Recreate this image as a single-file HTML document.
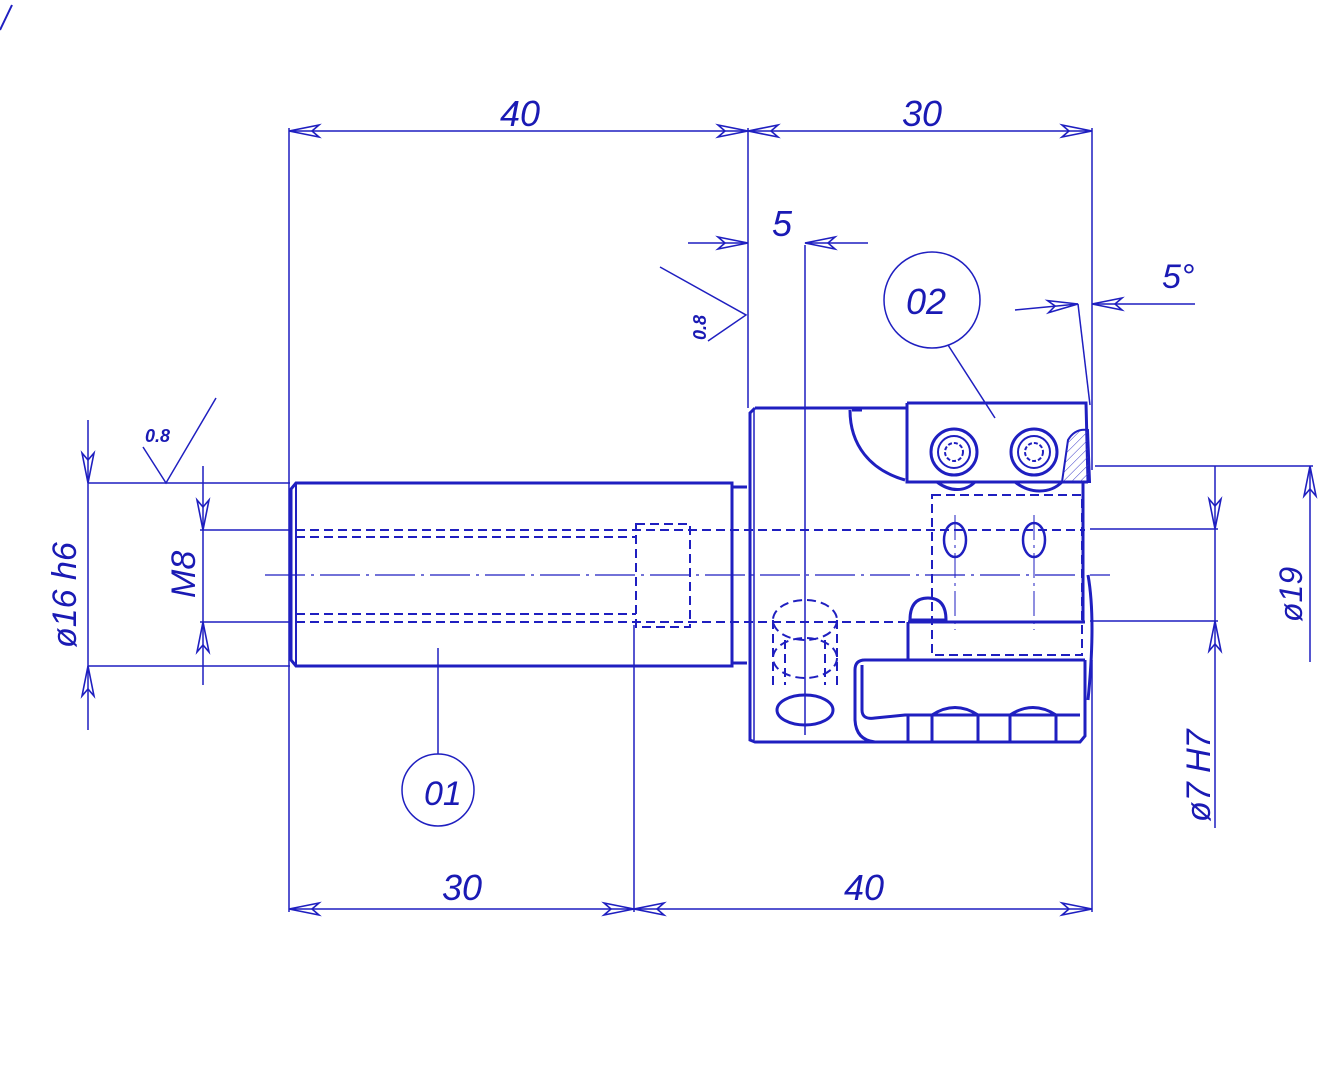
<!DOCTYPE html>
<html><head><meta charset="utf-8"><style>
html,body{margin:0;padding:0;background:#fff;}
svg{display:block}
text{font-family:"Liberation Sans","DejaVu Sans",sans-serif;font-style:italic;fill:#1a1ab4;}
</style></head><body>
<svg width="1339" height="1069" viewBox="0 0 1339 1069" xmlns="http://www.w3.org/2000/svg">
<defs>
<g id="ar"><path d="M0,0 L-30,-6 L-23,0 L-30,6 Z" fill="none" stroke="#1f1fc0" stroke-width="1.6" stroke-linejoin="miter"/></g>
<pattern id="hat" width="6" height="6" patternUnits="userSpaceOnUse" patternTransform="rotate(45)"><line x1="0" y1="0" x2="0" y2="6" stroke="#3a3ac8" stroke-width="1"/></pattern>
</defs>
<g stroke="#1f1fc0" fill="none">
<line x1="0" y1="30" x2="12" y2="5" stroke-width="2"/>
<g stroke-width="1.5">
<line x1="289" y1="128" x2="289" y2="912"/>
<line x1="748" y1="128" x2="748" y2="408"/>
<line x1="1092" y1="128" x2="1092" y2="470"/>
<line x1="1092" y1="660" x2="1092" y2="912"/>
<line x1="634" y1="625" x2="634" y2="912"/>
<line x1="289" y1="131" x2="1092" y2="131"/>
<line x1="289" y1="909" x2="1092" y2="909"/>
<line x1="688" y1="243" x2="748" y2="243"/>
<line x1="805" y1="243" x2="868" y2="243"/>
<line x1="805" y1="245" x2="805" y2="735"/>
<line x1="1015" y1="310" x2="1078" y2="304"/>
<line x1="1092" y1="304" x2="1195" y2="304"/>
<line x1="1078" y1="304" x2="1090" y2="405"/>
<line x1="88" y1="420" x2="88" y2="730"/>
<line x1="88" y1="483" x2="290" y2="483"/>
<line x1="88" y1="666" x2="290" y2="666"/>
<line x1="203" y1="466" x2="203" y2="685"/>
<line x1="200" y1="530" x2="292" y2="530"/>
<line x1="200" y1="622" x2="292" y2="622"/>
<line x1="1095" y1="466" x2="1313" y2="466"/>
<line x1="1310" y1="466" x2="1310" y2="662"/>
<line x1="1090" y1="529" x2="1218" y2="529"/>
<line x1="1090" y1="621" x2="1218" y2="621"/>
<line x1="1215" y1="466" x2="1215" y2="828"/>
<polyline points="143,447 166,483 216,398"/>
<polyline points="660,267 746,315 708,341"/>
<circle cx="932" cy="300" r="48"/>
<line x1="948" y1="345" x2="995" y2="418"/>
<circle cx="438" cy="790" r="36"/>
<line x1="438" y1="754" x2="438" y2="648"/>
<line x1="265" y1="575" x2="1110" y2="575" stroke-dasharray="40,6,3,6" stroke-width="1.2"/>
<line x1="955" y1="515" x2="955" y2="630" stroke-dasharray="25,5,3,5" stroke-width="1"/>
<line x1="1034" y1="515" x2="1034" y2="630" stroke-dasharray="25,5,3,5" stroke-width="1"/>
</g>
<g>
<use href="#ar" transform="translate(289,131) rotate(180)"/>
<use href="#ar" transform="translate(748,131)"/>
<use href="#ar" transform="translate(748,131) rotate(180)"/>
<use href="#ar" transform="translate(1092,131)"/>
<use href="#ar" transform="translate(289,909) rotate(180)"/>
<use href="#ar" transform="translate(634,909)"/>
<use href="#ar" transform="translate(634,909) rotate(180)"/>
<use href="#ar" transform="translate(1092,909)"/>
<use href="#ar" transform="translate(748,243)"/>
<use href="#ar" transform="translate(805,243) rotate(180)"/>
<use href="#ar" transform="translate(1078,304) rotate(-5)"/>
<use href="#ar" transform="translate(1092,304) rotate(180)"/>
<use href="#ar" transform="translate(88,483) rotate(90)"/>
<use href="#ar" transform="translate(88,666) rotate(-90)"/>
<use href="#ar" transform="translate(203,530) rotate(90)"/>
<use href="#ar" transform="translate(203,622) rotate(-90)"/>
<use href="#ar" transform="translate(1310,466) rotate(-90)"/>
<use href="#ar" transform="translate(1215,529) rotate(90)"/>
<use href="#ar" transform="translate(1215,621) rotate(-90)"/>
</g>
<g stroke-width="3">
<path d="M296,483 L732,483 L732,666 L296,666 L291,660 L291,489 Z"/>
<line x1="296" y1="483" x2="296" y2="666" stroke-width="2"/>
<path d="M732,487 L747,487 M732,663 L747,663"/>
<path d="M755,408 L907,408 M907,403 L1086,403 L1088,482 M907,403 L907,482 L1088,482"/>
<path d="M755,408 L750,413 L750,740 L755,742 L905,742"/>
<line x1="754" y1="410" x2="754" y2="740" stroke-width="1.5"/>
<path d="M850,410 C850,445 870,470 905,480"/>
<path d="M862,410 L852,410"/>
<path d="M937,482 C950,492 965,492 975,482 M1015,482 C1030,494 1050,494 1062,482"/>
<path d="M908,622 L1085,622 M908,622 L908,660 L1085,660"/>
<path d="M908,660 L865,660 Q855,660 855,670 L855,720 Q856,740 875,742 L1080,742 L1085,736 L1085,660"/>
<path d="M862,665 L862,710 Q862,720 875,718 L905,715 L1080,715"/>
<path d="M908,715 L908,742 M932,715 L932,742 M978,715 L978,742 M1010,715 L1010,742 M1056,715 L1056,742"/>
<path d="M932,715 Q955,700 978,715 M1010,715 Q1033,700 1056,715"/>
<path d="M1083,482 L1083,622"/>
<path d="M1088,575 Q1096,620 1088,700"/>
<path d="M910,620 Q910,598 928,598 Q946,598 946,620 Z"/>
<ellipse cx="805" cy="710" rx="28" ry="15"/>
<ellipse cx="955" cy="540" rx="11" ry="17" stroke-width="2.5"/>
<ellipse cx="1034" cy="540" rx="11" ry="17" stroke-width="2.5"/>
<circle cx="954" cy="452" r="23"/>
<circle cx="954" cy="452" r="16" stroke-width="2"/>
<circle cx="1034" cy="452" r="23"/>
<circle cx="1034" cy="452" r="16" stroke-width="2"/>
</g>
<circle cx="954" cy="452" r="9" stroke-width="2" stroke-dasharray="4,2"/>
<circle cx="1034" cy="452" r="9" stroke-width="2" stroke-dasharray="4,2"/>
<path d="M1062,482 L1068,440 Q1075,428 1088,430 L1090,482 Z" fill="url(#hat)" stroke-width="2"/>
<g stroke-width="2" stroke-dasharray="9,5">
<line x1="296" y1="530" x2="1085" y2="530"/>
<line x1="296" y1="537" x2="636" y2="537"/>
<line x1="296" y1="622" x2="905" y2="622"/>
<line x1="296" y1="614" x2="636" y2="614"/>
<rect x="636" y="524" width="54" height="103"/>
<rect x="932" y="495" width="150" height="160"/>
<ellipse cx="805" cy="620" rx="32" ry="20"/>
<ellipse cx="805" cy="658" rx="32" ry="20"/>
<path d="M773,620 L773,690 M837,620 L837,690 M785,640 L785,685 M825,640 L825,685"/>
</g>
</g>
<text x="500" y="126" font-size="36">40</text>
<text x="902" y="126" font-size="36">30</text>
<text x="442" y="900" font-size="36">30</text>
<text x="844" y="900" font-size="36">40</text>
<text x="772" y="236" font-size="36">5</text>
<text x="1162" y="288" font-size="34">5°</text>
<text x="906" y="314" font-size="36">02</text>
<text x="424" y="805" font-size="34">01</text>
<text x="145" y="442" font-size="18" font-weight="bold">0.8</text>
<text transform="translate(706,340) rotate(-90)" font-size="18" font-weight="bold">0.8</text>
<text transform="translate(76,648) rotate(-90)" font-size="34">ø16 h6</text>
<text transform="translate(195,598) rotate(-90)" font-size="34">M8</text>
<text transform="translate(1302,622) rotate(-90)" font-size="32">ø19</text>
<text transform="translate(1210,822) rotate(-90)" font-size="34">ø7 H7</text>
</svg>
</body></html>
